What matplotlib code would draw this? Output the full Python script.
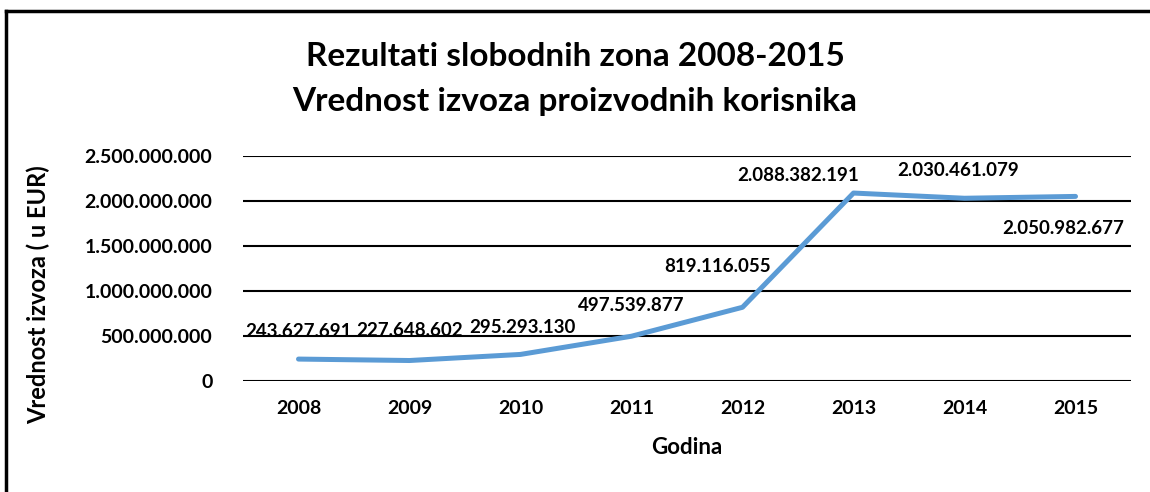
import matplotlib.pyplot as plt
from matplotlib.lines import Line2D
from matplotlib.ticker import FuncFormatter

years = ["2008", "2009", "2010", "2011", "2012", "2013", "2014", "2015"]
values = [243627691, 227648602, 295293130, 497539877, 819116055, 2088382191, 2030461079, 2050982677]
# label offsets in pixels (like excel's placement)
label_offsets = [(0, 28), (0, 30), (2, 27), (0, 31), (-25, 41), (-55, 18), (-6, 28), (-12, -32)]

plt.rcParams['font.family'] = ['Lato', 'DejaVu Sans']
plt.rcParams['font.weight'] = 'bold'


def fmt(v, pos=None):
    return f"{int(v):,}".replace(",", ".")


fig = plt.figure(figsize=(11.5, 4.92), dpi=100)
ax = fig.add_axes([243 / 1150, 1 - 381 / 492, 888 / 1150, 225 / 492])

x = list(range(len(years)))
ax.plot(x, values, color="#5B9BD5", lw=3.6, solid_capstyle="round", solid_joinstyle="round", zorder=3)

for i, v in enumerate(values):
    dx, dy = label_offsets[i]
    ax.annotate(fmt(v), (i, v), xytext=(dx, dy), textcoords="offset pixels",
                ha="center", va="center", fontsize=13.5, fontweight="bold", zorder=4)

ax.set_xlim(-0.5, len(years) - 0.5)
ax.set_ylim(0, 2.5e9)
ax.set_yticks([0, 5e8, 1e9, 1.5e9, 2e9, 2.5e9])
ax.yaxis.set_major_formatter(FuncFormatter(fmt))
ax.set_xticks(x)
ax.set_xticklabels(years)
ax.grid(axis="y", color="black", lw=1.5)
ax.set_axisbelow(True)
for s in ax.spines.values():
    s.set_visible(False)
ax.tick_params(length=0, labelsize=14)
ax.tick_params(axis="y", pad=22)
ax.tick_params(axis="x", pad=14)

fig.text(687 / 1150, 1 - 447 / 492, "Godina", ha="center", va="center", fontsize=16, fontweight="bold")
fig.text(38 / 1150, 1 - 295 / 492, "Vrednost izvoza ( u EUR)", ha="center", va="center",
         rotation=90, fontsize=17, fontweight="bold")

fig.text(0.5, 1 - 57 / 492, "Rezultati slobodnih zona 2008-2015", ha="center", va="center",
         fontsize=24, fontweight="bold")
fig.text(0.5, 1 - 102 / 492, "Vrednost izvoza proizvodnih korisnika", ha="center", va="center",
         fontsize=24, fontweight="bold")

# chart border (only top and left visible in the crop)
fig.add_artist(Line2D([6 / 1150, 1], [1 - 11 / 492, 1 - 11 / 492], color="black", lw=2.5, transform=fig.transFigure))
fig.add_artist(Line2D([6 / 1150, 6 / 1150], [0, 1 - 11 / 492], color="black", lw=2.5, transform=fig.transFigure))

fig.savefig("out.png", dpi=100)
